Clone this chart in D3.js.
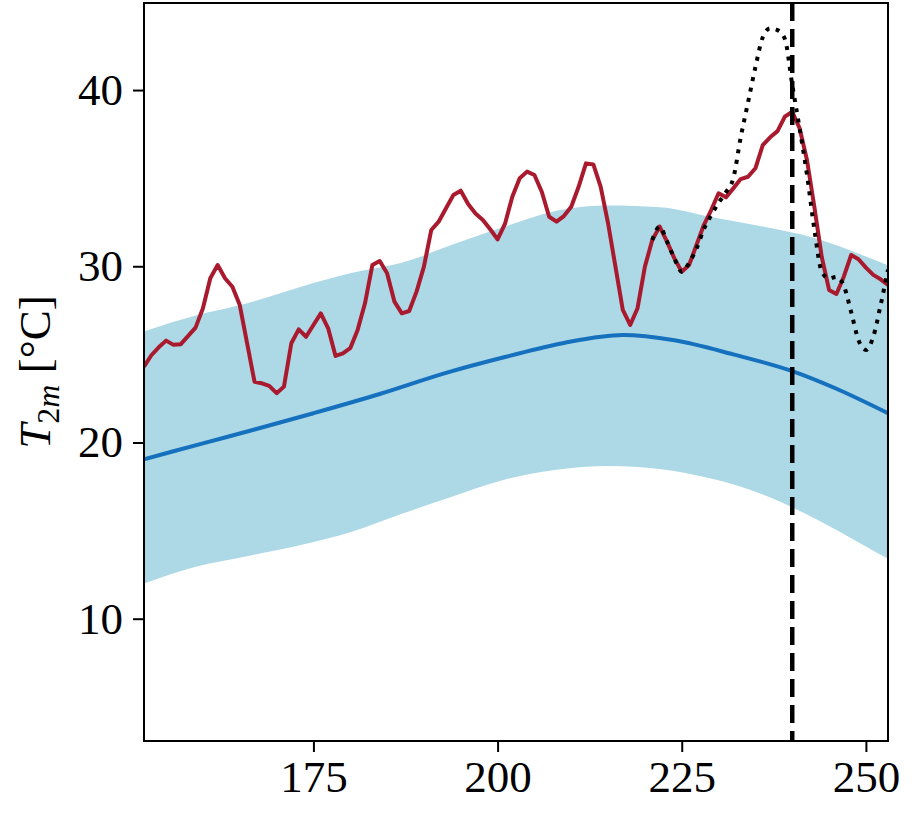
<!DOCTYPE html>
<html lang="en">
    <head>
        <meta charset="utf-8">
        <title>T2m</title>
        <script src="https://d3js.org/d3.v7.min.js" charset="utf-8"></script>
        <style>
        body {
            margin: 0;
            background: #fff;
        }
        svg {
            font-family: "Liberation Serif", "DejaVu Serif", serif;
        }
        .axis path,
        .axis line {
            fill: none;
            stroke: #000;
            stroke-width: 2px;
        }
        .axis text {
            font-family: "Liberation Serif", serif;
            font-size: 45px;
            fill: #000;
        }
        </style>
    </head>
    <body>
        <script type="text/javascript">
            // observed daily temperature (red), days 152..253
            var obsStart = 152;
            var obsValues = [24.31, 24.95, 25.4, 25.78, 25.54, 25.58, 26.05, 26.52, 27.62, 29.32,
                30.07, 29.32, 28.84, 27.8, 25.63, 23.45, 23.36, 23.21, 22.8, 23.17,
                25.63, 26.42, 26.0, 26.67, 27.33, 26.48, 24.91, 25.06, 25.35, 26.39,
                27.9, 30.07, 30.3, 29.6, 27.99, 27.33, 27.46, 28.56, 29.98, 32.06,
                32.53, 33.29, 34.04, 34.29, 33.53, 33.0, 32.63, 32.1, 31.53, 32.4,
                33.95, 34.99, 35.37, 35.18, 34.23, 32.81, 32.53, 32.85, 33.38, 34.51,
                35.84, 35.78, 34.51, 32.44, 29.98, 27.52, 26.67, 27.62, 29.98, 31.49,
                32.25, 31.4, 30.45, 29.69, 30.07, 31.21, 32.34, 33.19, 34.14, 33.91,
                34.42, 34.95, 35.08, 35.56, 36.88, 37.32, 37.67, 38.49, 38.77, 37.83,
                36.03, 33.38, 30.54, 28.66, 28.43, 29.41, 30.64, 30.4, 29.92, 29.51,
                29.26, 28.94];

            // alternative trajectory (dotted), days 221..253
            var altStart = 221;
            var altValues = [31.49, 32.25, 31.4, 30.45, 29.69, 30.2, 31.0, 32.1, 32.9, 33.6,
                34.2, 35.0, 37.3, 39.3, 41.3, 43.0, 43.5, 43.4, 42.9, 40.3,
                37.83, 35.2, 32.1, 29.7, 29.3, 29.4, 28.9, 27.4, 25.8, 25.25,
                26.0, 27.8, 29.8];

            // climatological mean (blue line)
            var meanDays = [152, 160, 168, 175, 184, 193, 201, 209, 217, 224, 232, 240, 246, 253];
            var meanValues = [19.05, 19.95, 20.85, 21.66, 22.75, 23.95, 24.85, 25.65, 26.1, 25.8, 25.0, 24.05, 23.05, 21.66];

            // spread band
            var bandDays = [152, 159, 166, 173, 180, 187, 194, 201, 208, 215, 222, 229, 236, 243, 250, 253];
            var bandUpper = [26.3, 27.2, 27.9, 28.8, 29.6, 30.2, 31.25, 32.25, 33.15, 33.45, 33.35, 32.8, 32.25, 31.6, 30.55, 30.05];
            var bandLower = [12.0, 12.95, 13.55, 14.15, 14.9, 15.95, 16.95, 17.9, 18.45, 18.67, 18.5, 17.95, 17.05, 15.7, 14.1, 13.4];

            var eventDay = 240;
            var xTicks = [175, 200, 225, 250];
            var yTicks = [10, 20, 30, 40];

            var margin = {top: 3, right: 28, bottom: 87, left: 144},
                width = 916 - margin.left - margin.right,
                height = 828 - margin.top - margin.bottom;

            var svg = d3.select("body").append("svg")
                .attr("width", 916)
                .attr("height", 828);
            var canvas = svg.append("g")
                .attr("transform", "translate(" + margin.left + "," + margin.top + ")");

            var x = d3.scaleLinear().domain([152, 253]).range([0, width]);
            var y = d3.scaleLinear().domain([3.06, 44.94]).range([height, 0]);

            canvas.append("clipPath").attr("id", "clip")
              .append("rect").attr("width", width).attr("height", height);
            var plot = canvas.append("g").attr("clip-path", "url(#clip)");

            var band = bandDays.map(function(d, i) { return {d: d, lo: bandLower[i], hi: bandUpper[i]}; });
            plot.append("path")
                .datum(band)
                .attr("fill", "#add8e6")
                .attr("d", d3.area()
                    .curve(d3.curveMonotoneX)
                    .x(function(p) { return x(p.d); })
                    .y0(function(p) { return y(p.lo); })
                    .y1(function(p) { return y(p.hi); }));

            var mean = meanDays.map(function(d, i) { return {d: d, v: meanValues[i]}; });
            plot.append("path")
                .datum(mean)
                .attr("fill", "none")
                .attr("stroke", "#1570be")
                .attr("stroke-width", 4)
                .attr("d", d3.line().curve(d3.curveMonotoneX)
                    .x(function(p) { return x(p.d); })
                    .y(function(p) { return y(p.v); }));

            var obs = obsValues.map(function(v, i) { return {d: obsStart + i, v: v}; });
            plot.append("path")
                .datum(obs)
                .attr("fill", "none")
                .attr("stroke", "#aa1a2e")
                .attr("stroke-width", 4)
                .attr("stroke-linejoin", "round")
                .attr("d", d3.line()
                    .x(function(p) { return x(p.d); })
                    .y(function(p) { return y(p.v); }));

            var alt = altValues.map(function(v, i) { return {d: altStart + i, v: v}; });
            plot.append("path")
                .datum(alt)
                .attr("fill", "none")
                .attr("stroke", "#000")
                .attr("stroke-width", 4)
                .attr("stroke-dasharray", "4,6.5")
                .attr("d", d3.line().curve(d3.curveMonotoneX)
                    .x(function(p) { return x(p.d); })
                    .y(function(p) { return y(p.v); }));

            // event marker
            plot.append("line")
                .attr("x1", x(eventDay)).attr("x2", x(eventDay))
                .attr("y1", 0).attr("y2", height)
                .attr("stroke", "#000")
                .attr("stroke-width", 4.5)
                .attr("stroke-dasharray", "18,8");

            // axes
            var xAxis = d3.axisBottom(x).tickValues(xTicks).tickSize(11).tickPadding(8).tickSizeOuter(0);
            canvas.append("g")
                .attr("class", "x axis")
                .attr("transform", "translate(0," + height + ")")
                .call(xAxis)
                .select(".domain").remove();
            var yAxis = d3.axisLeft(y).tickValues(yTicks).tickSize(11).tickPadding(10).tickSizeOuter(0);
            canvas.append("g")
                .attr("class", "y axis")
                .call(yAxis)
                .select(".domain").remove();

            // frame
            canvas.append("rect")
                .attr("width", width).attr("height", height)
                .attr("fill", "none")
                .attr("stroke", "#000")
                .attr("stroke-width", 2);

            // y label
            var label = svg.append("text")
                .attr("transform", "translate(50," + (margin.top + y(24.0)) + ") rotate(-90)")
                .attr("text-anchor", "middle")
                .style("font-size", "45px")
                .attr("fill", "#000");
            label.append("tspan").style("font-style", "italic").text("T");
            label.append("tspan").attr("dy", 9).style("font-size", "32px").text("2");
            label.append("tspan").style("font-size", "32px").style("font-style", "italic").text("m");
            label.append("tspan").attr("dy", -9).text(" [°C]");
        </script>
    </body>
</html>
